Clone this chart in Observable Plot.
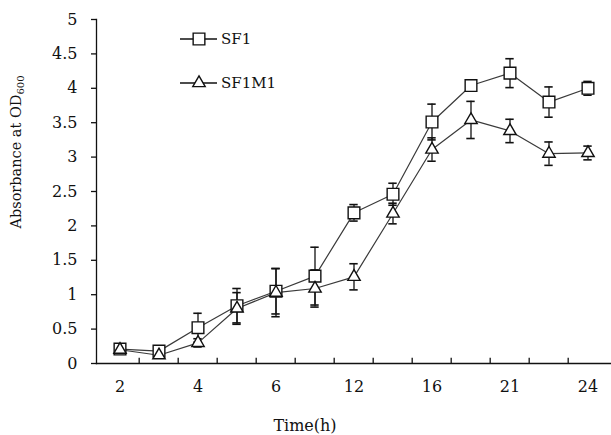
<!DOCTYPE html>
<html><head><meta charset="utf-8">
<script src="https://cdn.jsdelivr.net/npm/d3@7"></script>
<script src="https://cdn.jsdelivr.net/npm/@observablehq/plot@0.6"></script>
<style>body{margin:0;background:#fff} #chart{width:611px;height:435px}</style>
</head><body><div id="chart"></div>
<script>
const times = ["2","3","4","5","6","9","12","14","16","18","21","22","24"];
const shownTicks = ["2","4","6","12","16","21","24"];
const sf1 = [0.21,0.18,0.52,0.84,1.05,1.27,2.19,2.46,3.51,4.04,4.22,3.80,4.00];
const sf1Err = [0.03,0.03,0.21,0.25,0.33,0.42,0.12,0.16,0.26,0.07,0.21,0.22,0.10];
const sf1m1 = [0.20,0.12,0.30,0.80,1.03,1.09,1.26,2.18,3.11,3.54,3.38,3.05,3.06];
const sf1m1Err = [0.03,0.03,0.06,0.23,0.35,0.27,0.19,0.15,0.17,0.27,0.17,0.17,0.10];
const yTicks = [0,0.5,1,1.5,2,2.5,3,3.5,4,4.5,5];
const seriesNames = ["SF1","SF1M1"];

const rows = [];
times.forEach((t,i)=>{
  rows.push({t, v: sf1[i], e: sf1Err[i], s: "SF1"});
  rows.push({t, v: sf1m1[i], e: sf1m1Err[i], s: "SF1M1"});
});

const W = 611, H = 435, ML = 96, MR = 0, MT = 19, MB = 72;
const bw = (W - ML - MR) / times.length;
const font = "'DejaVu Serif', serif";
const rSq = 6.6, rTri = 4.6;

const plot = Plot.plot({
  width: W, height: H,
  marginLeft: ML, marginRight: MR, marginTop: MT, marginBottom: MB,
  style: {fontFamily: font, fontSize: "16px", color: "#111", background: "#fff"},
  x: {type: "band", domain: times, padding: 0},
  y: {domain: [0, 5]},
  marks: [
    Plot.axisX({tickSize: 0, tickPadding: 17, tickFormat: d => shownTicks.includes(d) ? d : "", label: null}),
    Plot.axisY({ticks: yTicks, tickSize: 5, tickPadding: 14, tickFormat: d => String(d), label: null, strokeWidth: 1.3}),
    Plot.frame({anchor: "left", stroke: "#111", strokeWidth: 1.3}),
    Plot.frame({anchor: "bottom", stroke: "#111", strokeWidth: 1.3}),
    Plot.ruleX(times.slice(1), {x: d => d, y1: 0, y2: 0.075, dx: -bw/2, stroke: "#111", strokeWidth: 1.3}),
    Plot.ruleX(rows, {x: "t", y1: d => d.v - d.e, y2: d => d.v + d.e, stroke: "#111", strokeWidth: 1.3}),
    Plot.tickY(rows, {x: "t", y: d => d.v + d.e, insetLeft: (bw-9)/2, insetRight: (bw-9)/2, stroke: "#111", strokeWidth: 1.6}),
    Plot.tickY(rows, {x: "t", y: d => d.v - d.e, insetLeft: (bw-9)/2, insetRight: (bw-9)/2, stroke: "#111", strokeWidth: 1.6}),
    Plot.line(rows, {x: "t", y: "v", z: "s", stroke: "#3a3a3a", strokeWidth: 1.2}),
    Plot.dot(rows.filter(d => d.s === "SF1"), {x: "t", y: "v", symbol: "square", r: rSq, fill: "#fff", stroke: "#111", strokeWidth: 1.4}),
    Plot.dot(rows.filter(d => d.s === "SF1M1"), {x: "t", y: "v", symbol: "triangle", r: rTri, fill: "#fff", stroke: "#111", strokeWidth: 1.4})
  ]
});
document.getElementById("chart").appendChild(plot);

const svg = d3.select(plot);
// y-axis label with subscript
const yl = svg.append("text")
  .attr("transform", `translate(21,152) rotate(-90)`)
  .attr("text-anchor", "middle")
  .attr("font-family", font).attr("font-size", 14.5).attr("fill", "#111");
yl.append("tspan").text("Absorbance at OD");
yl.append("tspan").attr("font-size", 10).attr("dy", 3).text("600");

// x-axis label
svg.append("text")
  .attr("x", 305).attr("y", 425).attr("dy", "0.35em")
  .attr("text-anchor", "middle")
  .attr("font-family", font).attr("font-size", 16).attr("fill", "#111")
  .text("Time(h)");

// legend
const legY = [39, 83];
const legSym = [d3.symbol(d3.symbolSquare, Math.PI*rSq*rSq), d3.symbol(d3.symbolTriangle, Math.PI*rTri*rTri)];
seriesNames.forEach((name, i) => {
  const g = svg.append("g").attr("transform", `translate(0,${legY[i]})`);
  g.append("line").attr("x1", 180).attr("x2", 217).attr("y1", 0).attr("y2", 0).attr("stroke", "#111").attr("stroke-width", 1.3);
  g.append("path").attr("d", legSym[i]()).attr("transform", "translate(199,0)").attr("fill", "#fff").attr("stroke", "#111").attr("stroke-width", 1.4);
  g.append("text").attr("x", 221).attr("y", 0).attr("dy", "0.35em").attr("text-anchor", "start")
    .attr("font-family", font).attr("font-size", 15).attr("fill", "#111").text(name);
});
</script>
</body></html>
